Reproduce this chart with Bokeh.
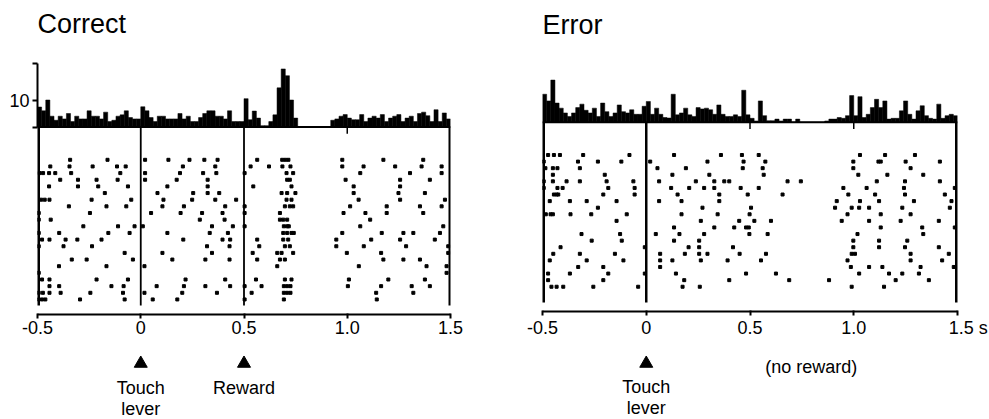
from bokeh.plotting import figure
from bokeh.layouts import row, column
from bokeh.models import Range1d, FixedTicker
from bokeh.core.properties import value
from bokeh.embed import file_html
from bokeh.resources import INLINE

# ---------------- data ----------------
bin_width = 0.02
time_ticks = [-0.5, 0.0, 0.5, 1.0, 1.5]
time_tick_labels = ["-0.5", "0", "0.5", "1.0", "1.5"]
time_unit = "s"
count_ticks = [0, 10, 23.5]
count_tick_labels = ["", "10", ""]

correct_counts = [
    7.4, 6, 10, 4, 2.5, 4, 3, 5, 2, 4,
    3, 3, 6, 4, 4, 3, 5.5, 2, 2.5, 4,
    4.5, 6, 3.5, 3, 3, 7.5, 6, 3.5, 2, 4,
    4, 3, 3, 3, 5, 3, 4, 2, 2, 3.5,
    5, 6, 6, 4, 4, 3, 6, 2, 2, 2,
    10.5, 2.7, 5.9, 3.3, 0.5, 0.5, 2, 4.5, 14.5, 21.5,
    19, 10, 3.3, 0, 0, 0, 0, 0, 0, 0,
    0, 2.5, 3, 4, 4.6, 3.3, 2.7, 2.7, 4.6, 2,
    3.3, 4, 3.3, 4.6, 2, 3.3, 4, 4.6, 2, 3.3,
    4, 2, 5, 5.5, 4.2, 2, 6.4, 2, 5.2, 3,
]

error_counts = [
    10.5, 8, 15.8, 7.2, 5.3, 3.5, 2.2, 3.5, 5.5, 6.8,
    4.5, 3.5, 5.3, 2.2, 7.2, 4, 2.2, 3.5, 6.5, 4,
    3.5, 4.7, 3, 3, 6, 7.8, 3, 5.3, 3, 1.8,
    1.6, 10.5, 2.8, 3.5, 5.3, 2.8, 2.2, 5.5, 5, 5.3,
    4.7, 3, 6.5, 3, 2.2, 2.2, 2.8, 2.2, 12, 2.8,
    1.5, 0.5, 8, 2.5, 0.6, 0.6, 1.2, 0.5, 1.2, 1.2,
    0, 1.2, 0, 0, 0, 0, 0, 0, 0.5, 1.2,
    1.2, 1.8, 1.5, 2.5, 10, 2.5, 9.6, 1.8, 3, 5.5,
    8.6, 5.5, 8, 1.2, 1.5, 1.5, 4.3, 8, 3, 1.2,
    4.3, 6.2, 2.5, 1.5, 1.2, 6.8, 1.5, 2.5, 3, 2.5,
]

correct_trials = [
    [-0.342, -0.161, 0.021, 0.134, 0.236, 0.308, 0.372, 0.564, 0.685, 0.70, 0.715, 0.976, 1.175, 1.368],
    [-0.438, -0.345, -0.233, -0.115, -0.073, 0.204, 0.361, 0.532, 0.621, 0.686, 0.725, 0.976, 1.079, 1.232, 1.36, 1.457],
    [-0.49, -0.473, -0.444, -0.414, -0.337, -0.099, 0.021, 0.190, 0.302, 0.366, 0.503, 0.706, 0.738, 1.063, 1.304, 1.457],
    [-0.39, -0.304, -0.214, -0.112, 0.021, 0.174, 0.324, 0.709, 0.722, 0.992, 1.256, 1.40],
    [-0.444, -0.304, -0.206, -0.062, 0.129, 0.324, 0.545, 0.730, 1.031, 1.256],
    [-0.174, 0.081, 0.254, 0.324, 0.380, 0.682, 0.709, 0.749, 1.031, 1.248, 1.376],
    [-0.482, -0.465, -0.442, -0.238, -0.046, 0.110, 0.249, 0.361, 0.462, 0.706, 0.730, 1.055, 1.256, 1.473],
    [-0.348, -0.166, -0.070, 0.105, 0.209, 0.409, 0.503, 0.698, 0.722, 0.738, 1.014, 1.191, 1.352, 1.457],
    [-0.494, -0.246, 0.050, 0.193, 0.297, 0.396, 0.503, 0.674, 0.982, 1.088, 1.191, 1.368],
    [-0.494, -0.436, 0.286, 0.406, 0.674, 0.690, 0.709, 1.111],
    [-0.278, -0.110, -0.030, 0.010, 0.345, 0.446, 0.503, 0.693, 0.709, 0.717, 1.063, 1.465],
    [-0.494, -0.395, -0.157, -0.054, 0.129, 0.334, 0.422, 0.690, 0.709, 0.730, 0.741, 0.976, 1.167, 1.272, 1.320, 1.449],
    [-0.478, -0.442, -0.364, -0.307, -0.190, 0.206, 0.396, 0.433, 0.564, 0.690, 0.714, 0.947, 1.116, 1.256, 1.424],
    [-0.494, -0.374, -0.236, 0.321, 0.430, 0.574, 0.698, 0.722, 0.947, 1.080, 1.285, 1.489],
    [-0.078, 0.105, 0.345, 0.542, 0.661, 0.682, 0.738, 0.998, 1.164, 1.489],
    [-0.334, -0.262, -0.038, 0.153, 0.313, 0.430, 0.564, 0.674, 0.698, 1.175, 1.272, 1.352],
    [-0.396, -0.166, 0.018, 0.661, 1.056, 1.384, 1.481],
    [-0.494, 1.481],
    [-0.478, -0.442, -0.214, -0.062, 0.217, 0.409, 0.558, 0.698, 0.730, 1.008, 1.199, 1.376],
    [-0.442, -0.395, -0.142, -0.083, 0.077, 0.209, 0.313, 0.433, 0.503, 0.585, 0.693, 0.709, 0.725, 1.003, 1.164, 1.312, 1.40],
    [-0.494, -0.474, -0.442, -0.388, -0.244, -0.086, 0.018, 0.201, 0.369, 0.537, 0.693, 0.709, 0.725, 1.140, 1.320],
    [-0.494, -0.478, -0.462, -0.294, -0.078, 0.058, 0.177, 0.503, 0.693, 1.143],
]

error_trials = [
    [-0.473, -0.445, -0.416, -0.304, -0.081, 0.134, 0.360, 0.461, 0.542, 1.030, 1.151, 1.295],
    [-0.494, -0.329, -0.233, -0.120, 0.019, 0.295, 0.469, 0.574, 0.998, 1.119, 1.130, 1.250, 1.415],
    [-0.486, -0.450, -0.428, -0.320, 0.054, 0.191, 0.465, 0.561, 0.998, 1.274],
    [-0.450, -0.200, 0.126, 0.304, 0.566, 1.022, 1.162, 1.335],
    [-0.494, -0.450, -0.384, -0.320, -0.191, -0.062, 0.062, 0.239, 0.328, 0.376, 0.400, 0.681, 0.745, 1.111, 1.247, 1.415],
    [-0.494, -0.428, -0.403, -0.183, -0.056, 0.120, 0.207, 0.279, 0.328, 0.455, 0.542, 0.950, 1.062, 1.242, 1.487],
    [-0.445, -0.432, -0.424, -0.207, -0.056, 0.151, 0.352, 0.489, 0.657, 0.974, 1.103, 1.247, 1.439],
    [-0.465, -0.368, -0.287, -0.143, 0.062, 0.170, 0.352, 0.918, 1.030, 1.122, 1.290, 1.471],
    [-0.233, 0.271, 0.505, 0.910, 0.990, 1.026, 1.074, 1.234, 1.463],
    [-0.484, -0.461, -0.450, -0.365, -0.265, -0.094, 0.170, 0.344, 0.498, 0.970, 1.130, 1.274],
    [-0.143, 0.263, 0.448, 0.521, 0.601, 0.942, 1.074, 1.226, 1.410],
    [0.134, 0.328, 0.424, 0.481, 0.494, 1.130, 1.330, 1.487],
    [-0.312, -0.126, 0.046, 0.160, 0.279, 0.497, 0.585, 1.018, 1.335],
    [-0.263, -0.118, 0.134, 0.255, 0.998, 1.122, 1.258],
    [-0.413, -0.007, 0.204, 0.255, 0.418, 0.998, 1.122, 1.247, 1.410],
    [-0.448, -0.320, -0.151, 0.067, 0.186, 0.255, 0.295, 0.450, 0.577, 0.990, 1.006, 1.274, 1.458],
    [-0.465, -0.287, -0.110, 0.067, 0.126, 0.263, 0.392, 0.553, 0.970, 1.274, 1.426],
    [-0.328, -0.207, 0.067, 0.986, 1.074, 1.138, 1.322, 1.482],
    [-0.473, -0.368, -0.183, -0.007, 0.143, 0.481, 0.625, 1.026, 1.170, 1.234, 1.314],
    [-0.473, -0.207, 0.183, 0.400, 0.689, 0.881, 1.202, 1.362],
    [-0.457, -0.432, -0.400, -0.255, -0.039, 0.175, 0.258, 0.990, 1.146],
]

# event / border lines of each raster and small marks on the histogram baseline
correct_lines = [-0.5, 0.0, 0.5, 1.5]
error_lines = [-0.5, 0.0, 1.5]
correct_base_marks = [1.0]
error_base_marks = [0.5, 1.0]

# events marked under the axis
correct_events = [0.0, 0.5]
correct_event_names = [["Touch", "lever"], ["Reward"]]
error_events = [0.0]
error_event_names = [["Touch", "lever"]]
error_note = "(no reward)"
error_note_time = 0.795

# ---------------- layout / style ----------------
FONT = "Liberation Sans"
TOP_H = 340
ANN_H = 79
FRAME_TOP = 0        # page px (frame reaches the top; title drawn inside)
FRAME_BOTTOM = 314   # page px
PX_PER_COUNT = 2.7
ROW_PX = 6.65
RASTER_BOTTOM = 305


def style_blank(p):
    p.outline_line_color = None
    p.xgrid.visible = False
    p.ygrid.visible = False
    p.background_fill_color = "white"
    p.border_fill_color = "white"


def panel(title, title_y, counts, trials, lines, line_w, base_marks, base_px, row0_px,
          fig_left, fig_w, frame_left, frame_right, hist_axis, tick_labels,
          events, event_names, note=None, note_time=None, touch_y=387):
    y0 = -(FRAME_BOTTOM - base_px) / PX_PER_COUNT
    y1 = (base_px - FRAME_TOP) / PX_PER_COUNT
    xr = Range1d(time_ticks[0], time_ticks[-1])
    p = figure(width=fig_w, height=TOP_H, x_range=xr, y_range=Range1d(y0, y1),
               output_backend="svg", toolbar_location=None,
               y_axis_location="left" if hist_axis else None,
               min_border_left=frame_left - fig_left,
               min_border_right=fig_left + fig_w - frame_right,
               min_border_top=FRAME_TOP,
               min_border_bottom=TOP_H - FRAME_BOTTOM)
    p.extra_y_ranges = {"raster": Range1d(start=(FRAME_BOTTOM - row0_px) / ROW_PX,
                                          end=-(row0_px - FRAME_TOP) / ROW_PX)}
    style_blank(p)

    def ry(page_y):
        return (page_y - row0_px) / ROW_PX

    def hy(page_y):
        return (base_px - page_y) / PX_PER_COUNT

    # panel title
    p.text(x=[time_ticks[0]], y=[hy(title_y)], text=[title], text_align="left",
           text_baseline="alphabetic", text_font=value(FONT),
           text_font_size="27px", text_color="black")

    # histogram
    edges = [time_ticks[0] + bin_width * i for i in range(len(counts) + 1)]
    p.quad(left=edges[:-1], right=edges[1:], bottom=0, top=counts,
           fill_color="black", line_color="black", line_width=0.5)
    p.segment(x0=[time_ticks[0]], x1=[time_ticks[-1]], y0=[0], y1=[0],
              line_color="black", line_width=2)
    p.segment(x0=base_marks, x1=base_marks, y0=[0] * len(base_marks),
              y1=[-2.5] * len(base_marks), line_color="black", line_width=1.5)

    # raster event lines
    p.segment(x0=lines, x1=lines, y0=[ry(base_px)] * len(lines),
              y1=[ry(RASTER_BOTTOM)] * len(lines), line_color="black",
              line_width=line_w, y_range_name="raster")

    xs, ys = [], []
    for i, tr in enumerate(trials):
        xs.extend(tr)
        ys.extend([i] * len(tr))
    p.scatter(xs, ys, marker="square", size=3, color="black",
              y_range_name="raster")

    # x axis
    ax = p.xaxis[0]
    ax.ticker = FixedTicker(ticks=time_ticks)
    ax.major_label_overrides = dict(zip(time_ticks, tick_labels))
    ax.axis_line_width = 2
    ax.axis_line_color = "black"
    ax.major_tick_line_width = 2
    ax.major_tick_line_color = "black"
    ax.major_tick_out = 4
    ax.major_tick_in = 1
    ax.minor_tick_line_color = None
    ax.major_label_text_font = FONT
    ax.major_label_text_font_size = "18px"
    ax.major_label_text_color = "black"
    ax.major_label_standoff = 2

    if hist_axis:
        yax = p.yaxis[0]
        yax.ticker = FixedTicker(ticks=count_ticks)
        yax.major_label_overrides = dict(zip(count_ticks, count_tick_labels))
        yax.bounds = (count_ticks[0], count_ticks[-1])
        yax.axis_line_width = 2
        yax.axis_line_color = "black"
        yax.major_tick_line_width = 2
        yax.major_tick_line_color = "black"
        yax.major_tick_out = 5
        yax.major_tick_in = 0
        yax.minor_tick_line_color = None
        yax.major_label_text_font = FONT
        yax.major_label_text_font_size = "18px"
        yax.major_label_text_color = "black"
        yax.major_label_standoff = 3

    # annotation strip under the axis (page px as y, growing downward)
    a = figure(width=fig_w, height=ANN_H, x_range=xr,
               y_range=Range1d(TOP_H + ANN_H, TOP_H),
               output_backend="svg", toolbar_location=None,
               x_axis_location=None, y_axis_location=None,
               min_border_left=frame_left - fig_left,
               min_border_right=fig_left + fig_w - frame_right,
               min_border_top=0, min_border_bottom=0)
    style_blank(a)
    a.scatter(x=events, y=[363] * len(events), marker="triangle", size=13,
              color="black")
    tx, ty, tt = [], [], []
    for ev, names in zip(events, event_names):
        for k, nm in enumerate(names):
            tx.append(ev)
            ty.append(touch_y + 21 * k)
            tt.append(nm)
    a.text(x=tx, y=ty, text=tt, text_align="center", text_baseline="alphabetic",
           text_font=value(FONT), text_font_size="18px", text_color="black")
    if note:
        a.text(x=[note_time], y=[366], text=[note], text_align="center",
               text_baseline="alphabetic", text_font=value(FONT),
               text_font_size="18px", text_color="black")
    return column(p, a)


error_tick_labels = list(time_tick_labels)
error_tick_labels[-1] = "\u2003\u2009" + time_tick_labels[-1] + " " + time_unit

left = panel("Correct", 23, correct_counts, correct_trials, correct_lines,
             [5, 1.8, 1.8, 4], correct_base_marks, 126.5, 159.3,
             0, 500, 37, 450, True, time_tick_labels,
             correct_events, correct_event_names, touch_y=387)
right = panel("Error", 25, error_counts, error_trials, error_lines,
              [5, 2.5, 5], error_base_marks, 123, 156,
              500, 489, 542, 957, False, error_tick_labels,
              error_events, error_event_names, error_note, error_note_time,
              touch_y=386)

layout = row(left, right)
open("out.html", "w").write(file_html(layout, INLINE))
